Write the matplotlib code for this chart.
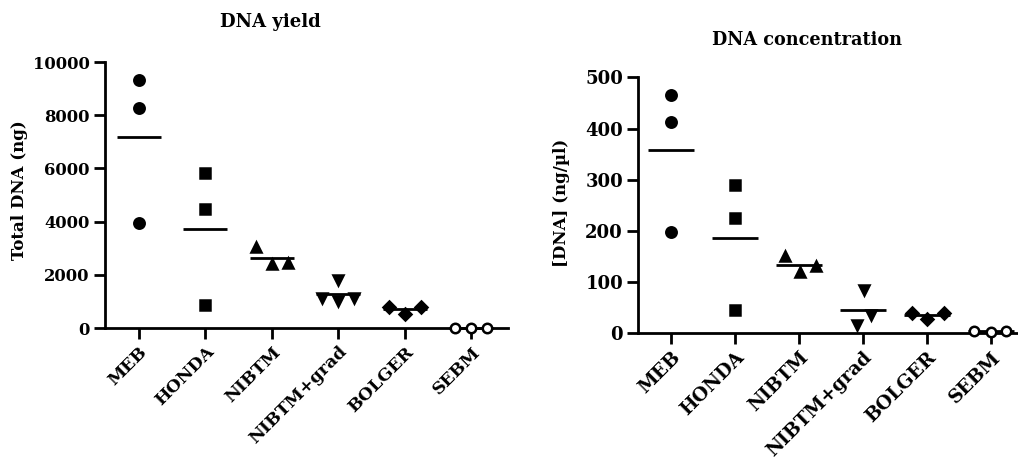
import numpy as np
import matplotlib
matplotlib.use("Agg")
import matplotlib.pyplot as plt

methods = ["MEB", "HONDA", "NIBTM", "NIBTM+grad", "BOLGER", "SEBM"]

# total DNA yield (ng), replicates per extraction method
yield_meb = [9320, 8270, 3930]
yield_honda = [5840, 4470, 880]
yield_nibtm = [3030, 2400, 2450]
yield_nibtm_grad = [1140, 1800, 1020, 1130]
yield_bolger = [780, 530, 780]
yield_sebm = [0, 0, 0]

# DNA concentration (ng/ul)
conc_meb = [465, 413, 198]
conc_honda = [290, 225, 46]
conc_nibtm = [151, 120, 132]
conc_nibtm_grad = [16, 85, 36]
conc_bolger = [40, 27, 39]
conc_sebm = [5, 3, 5]

yield_data = [yield_meb, yield_honda, yield_nibtm, yield_nibtm_grad, yield_bolger, yield_sebm]
conc_data = [conc_meb, conc_honda, conc_nibtm, conc_nibtm_grad, conc_bolger, conc_sebm]

# horizontal spread of the replicate points inside each column
yield_spread = [[0, 0, 0], [0, 0, 0], [-0.24, 0, 0.24], [-0.24, 0, 0, 0.24],
                [-0.24, 0, 0.24], [-0.24, 0, 0.24]]
conc_spread = [[0, 0, 0], [0, 0, 0], [-0.22, 0.02, 0.26], [-0.1, 0.01, 0.12],
               [-0.23, 0, 0.26], [-0.26, 0, 0.24]]

markers = ["o", "s", "^", "v", "D", "o"]
msizes = [7.5, 7.5, 7, 7, 6.5, 6.8]

plt.rcParams["font.family"] = "DejaVu Serif"
plt.rcParams["font.weight"] = "bold"

fig = plt.figure(figsize=(10.18, 4.68), dpi=100)
ax1 = fig.add_axes([0.1031, 0.2991, 0.3959, 0.5684])
ax2 = fig.add_axes([0.627, 0.2878, 0.381, 0.547])


def scatter_panel(ax, data, spread, ylim, yticks, tick_fs, xtick_fs, half):
    for i, (vals, offs) in enumerate(zip(data, spread)):
        xs = i + np.array(offs)
        face = "white" if i == 5 else "black"
        ax.plot(xs, vals, linestyle="none", marker=markers[i], ms=msizes[i],
                mfc=face, mec="black", mew=1.8, clip_on=False, zorder=3)
        m = np.mean(vals)
        ax.plot([i - half, i + half], [m, m], color="black", lw=2,
                clip_on=False, solid_capstyle="butt", zorder=2)
    ax.set_xlim(-0.51, 5.55)
    ax.set_ylim(*ylim)
    ax.set_yticks(yticks)
    ax.set_xticks(range(len(methods)))
    ax.set_xticklabels(methods, rotation=45, ha="right", va="top",
                       rotation_mode="anchor", fontsize=xtick_fs, fontweight="bold")
    for lab in ax.get_yticklabels():
        lab.set_fontsize(tick_fs)
        lab.set_fontweight("bold")
    for side in ["top", "right"]:
        ax.spines[side].set_visible(False)
    for side in ["left", "bottom"]:
        ax.spines[side].set_linewidth(2)
    ax.tick_params(width=2, length=8, pad=3)


scatter_panel(ax1, yield_data, yield_spread, (0, 10000),
              [0, 2000, 4000, 6000, 8000, 10000], 11.8, 12.5, 0.33)
scatter_panel(ax2, conc_data, conc_spread, (0, 500),
              [0, 100, 200, 300, 400, 500], 13, 13.5, 0.36)

fig.text(270 / 1018, 1 - 22 / 468, "DNA yield", ha="center", va="center",
         fontsize=13, fontweight="bold")
fig.text(807 / 1018, 1 - 40 / 468, "DNA concentration", ha="center", va="center",
         fontsize=12.7, fontweight="bold")
fig.text(20 / 1018, 1 - 190 / 468, "Total DNA (ng)", rotation=90, ha="center",
         va="center", fontsize=12, fontweight="bold")
fig.text(562 / 1018, 1 - 203 / 468, "[DNA] (ng/\u00b5l)", rotation=90, ha="center",
         va="center", fontsize=12, fontweight="bold")

fig.savefig("out.png", dpi=100, facecolor="white")
